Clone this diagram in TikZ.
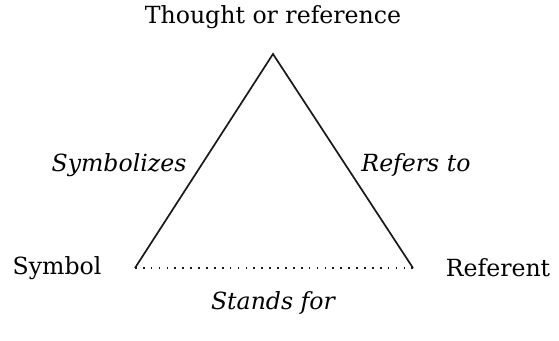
\documentclass[tikz,border=0pt]{standalone}
\usepackage{fontspec}
\setmainfont{DejaVu Serif}
\usepackage{tikz}
\usetikzlibrary{positioning}
\tikzset{
  term/.style  = {font=\fontsize{11.8}{13}\selectfont, inner sep=0pt},
  rel/.style   = {font=\fontsize{11.8}{13}\selectfont\itshape, inner sep=0pt},
  side/.style  = {line width=0.85pt, black!90},
  weak/.style  = {line width=0.85pt, dash pattern=on 0.85pt off 3.1pt, black!90}
}

\begin{document}
\begin{tikzpicture}[x=0.5pt,y=-0.5pt]
\useasboundingbox (0,0) rectangle (559,341);
\coordinate (apex)  at (273,54);
\coordinate (left)  at (135,268);
\coordinate (right) at (413,268);
\draw[side] (left) -- (apex) -- (right);
\draw[weak] (left) -- (right);
\node[term] (thought)  at (273,17)  {Thought or reference};
\node[term] (symbol)   at (57,268)  {Symbol};
\node[term] (referent) at (498,268) {Referent};
\node[rel] (symbolizes) at (119,165) {Symbolizes};
\node[rel] (refers)     at (416,165) {Refers to};
\node[rel] (stands)     at (273,303) {Stands for};
\end{tikzpicture}
\end{document}
